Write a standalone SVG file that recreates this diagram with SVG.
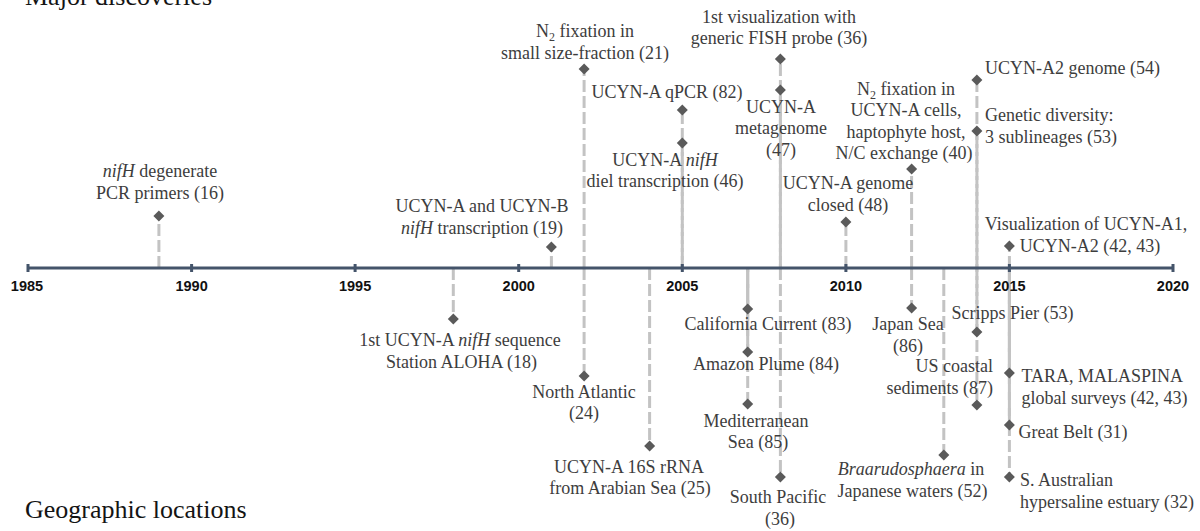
<svg xmlns="http://www.w3.org/2000/svg" xmlns:xlink="http://www.w3.org/1999/xlink" width="1200" height="531" viewBox="0 0 1200 531">
<style>
.t{font-family:"Liberation Serif","Times New Roman",serif;font-size:18px;fill:#3d3d3d}
.m{text-anchor:middle}
.e{text-anchor:end}
.title{font-family:"Liberation Serif","Times New Roman",serif;font-size:26px;fill:#141414}
.yr{font-family:"Liberation Sans",Arial,sans-serif;font-size:14.5px;font-weight:bold;fill:#111;text-anchor:middle}
.ld{stroke:#c3c3c3;stroke-width:3;stroke-dasharray:12 4;fill:none}
.i{font-style:italic}
</style>
<defs>
<path id="dm" d="M0,-5.5 L5.5,0 L0,5.5 L-5.5,0Z" fill="#5a5a5a"/>
</defs>
<rect width="1200" height="531" fill="#fff"/>
<text class="title" x="25" y="5">Major discoveries</text>
<text class="title" x="25" y="518">Geographic locations</text>

<g id="connectors">
<line class="ld" x1="158.9" y1="268" x2="158.9" y2="216"/>
<line class="ld" x1="551.4" y1="268" x2="551.4" y2="247"/>
<line class="ld" x1="584.1" y1="268" x2="584.1" y2="69"/>
<line class="ld" x1="682.3" y1="268" x2="682.3" y2="110"/>
<line class="ld" x1="682.3" y1="268" x2="682.3" y2="143" stroke-dashoffset="8"/>
<line class="ld" x1="780.4" y1="268" x2="780.4" y2="59"/>
<line class="ld" x1="780.4" y1="268" x2="780.4" y2="90" stroke-dashoffset="8"/>
<line class="ld" x1="845.9" y1="268" x2="845.9" y2="222"/>
<line class="ld" x1="911.6" y1="268" x2="911.6" y2="169"/>
<line class="ld" x1="976.9" y1="268" x2="976.9" y2="80"/>
<line class="ld" x1="976.9" y1="268" x2="976.9" y2="131" stroke-dashoffset="8"/>
<line class="ld" x1="1009.4" y1="268" x2="1009.4" y2="246"/>
<line class="ld" x1="453.3" y1="268" x2="453.3" y2="319"/>
<line class="ld" x1="584.1" y1="268" x2="584.1" y2="376"/>
<line class="ld" x1="649.6" y1="268" x2="649.6" y2="446"/>
<line class="ld" x1="747.7" y1="268" x2="747.7" y2="309"/>
<line class="ld" x1="747.7" y1="268" x2="747.7" y2="352" stroke-dashoffset="8"/>
<line class="ld" x1="747.7" y1="268" x2="747.7" y2="404" stroke-dashoffset="4"/>
<line class="ld" x1="780.4" y1="268" x2="780.4" y2="477"/>
<line class="ld" x1="911.6" y1="268" x2="911.6" y2="308"/>
<line class="ld" x1="943.8" y1="268" x2="943.8" y2="455"/>
<line class="ld" x1="976.9" y1="268" x2="976.9" y2="332"/>
<line class="ld" x1="976.9" y1="268" x2="976.9" y2="405" stroke-dashoffset="8"/>
<line class="ld" x1="1009.4" y1="268" x2="1009.4" y2="373"/>
<line class="ld" x1="1009.4" y1="268" x2="1009.4" y2="425" stroke-dashoffset="8"/>
<line class="ld" x1="1009.4" y1="268" x2="1009.4" y2="477" stroke-dashoffset="4"/>
</g>

<g id="axis">
<line x1="28" y1="268" x2="1173" y2="268" stroke="#44546a" stroke-width="3"/>
<g fill="#44546a">
<rect x="26.5" y="264" width="3" height="8"/>
<rect x="190.1" y="264" width="3" height="8"/>
<rect x="353.6" y="264" width="3" height="8"/>
<rect x="517.2" y="264" width="3" height="8"/>
<rect x="680.8" y="264" width="3" height="8"/>
<rect x="844.4" y="264" width="3" height="8"/>
<rect x="1007.9" y="264" width="3" height="8"/>
<rect x="1171.5" y="264" width="3" height="8"/>
</g>
<text class="yr" x="27" y="291">1985</text>
<text class="yr" x="191.6" y="291">1990</text>
<text class="yr" x="355.1" y="291">1995</text>
<text class="yr" x="518.7" y="291">2000</text>
<text class="yr" x="682.3" y="291">2005</text>
<text class="yr" x="845.9" y="291">2010</text>
<text class="yr" x="1009.4" y="291">2015</text>
<text class="yr" x="1173" y="291">2020</text>
</g>

<g id="e1989-primers"><use xlink:href="#dm" x="158.9" y="216"/>
<text class="t m" x="160" y="177"><tspan class="i">nifH</tspan> degenerate</text>
<text class="t m" x="160" y="199">PCR primers (16)</text></g>

<g id="e2001-transcription"><use xlink:href="#dm" x="551.4" y="247"/>
<text class="t m" x="482" y="212">UCYN-A and UCYN-B</text>
<text class="t m" x="482" y="234"><tspan class="i">nifH</tspan> transcription (19)</text></g>

<g id="e2002-fixation"><use xlink:href="#dm" x="584.1" y="69"/>
<text class="t m" x="585" y="37">N<tspan font-size="12" dy="4">2</tspan><tspan dy="-4"> fixation in</tspan></text>
<text class="t m" x="585" y="58.5">small size-fraction (21)</text></g>

<g id="e2005-qpcr"><use xlink:href="#dm" x="682.3" y="110"/>
<text class="t m" x="667" y="97.5">UCYN-A qPCR (82)</text></g>

<g id="e2005-diel"><use xlink:href="#dm" x="682.3" y="143"/>
<text class="t m" x="665" y="165.5">UCYN-A <tspan class="i">nifH</tspan></text>
<text class="t m" x="665" y="187">diel transcription (46)</text></g>

<g id="e2008-fish"><use xlink:href="#dm" x="780.4" y="59"/>
<text class="t m" x="779" y="22.5">1st visualization with</text>
<text class="t m" x="779" y="44">generic FISH probe (36)</text></g>

<g id="e2008-metagenome"><use xlink:href="#dm" x="780.4" y="90"/>
<text class="t m" x="781" y="112.5">UCYN-A</text>
<text class="t m" x="781" y="134">metagenome</text>
<text class="t m" x="781" y="155.5">(47)</text></g>

<g id="e2010-genome"><use xlink:href="#dm" x="845.9" y="222"/>
<text class="t m" x="848" y="189">UCYN-A genome</text>
<text class="t m" x="848" y="210.5">closed (48)</text></g>

<g id="e2012-fixation"><use xlink:href="#dm" x="911.6" y="169"/>
<text class="t m" x="906" y="94.5">N<tspan font-size="12" dy="4">2</tspan><tspan dy="-4"> fixation in</tspan></text>
<text class="t m" x="906" y="116">UCYN-A cells,</text>
<text class="t m" x="906" y="137.5">haptophyte host,</text>
<text class="t m" x="904" y="159">N/C exchange (40)</text></g>

<g id="e2014-a2genome"><use xlink:href="#dm" x="976.9" y="80"/>
<text class="t" x="985" y="73.5">UCYN-A2 genome (54)</text></g>

<g id="e2014-diversity"><use xlink:href="#dm" x="976.9" y="131"/>
<text class="t" x="985" y="120.5">Genetic diversity:</text>
<text class="t" x="985" y="142.5">3 sublineages (53)</text></g>

<g id="e2015-visualization"><use xlink:href="#dm" x="1009.4" y="246"/>
<text class="t m" x="1086" y="230">Visualization of UCYN-A1,</text>
<text class="t m" x="1090" y="252">UCYN-A2 (42, 43)</text></g>

<g id="g1998-aloha"><use xlink:href="#dm" x="453.3" y="319"/>
<text class="t m" x="460" y="346">1st UCYN-A <tspan class="i">nifH</tspan> sequence</text>
<text class="t m" x="461.5" y="367.5">Station ALOHA (18)</text></g>

<g id="g2002-atlantic"><use xlink:href="#dm" x="584.1" y="376"/>
<text class="t m" x="584" y="397.5">North Atlantic</text>
<text class="t m" x="584" y="419">(24)</text></g>

<g id="g2004-arabian"><use xlink:href="#dm" x="649.6" y="446"/>
<text class="t m" x="629" y="472.5">UCYN-A 16S rRNA</text>
<text class="t m" x="630" y="494">from Arabian Sea (25)</text></g>

<g id="g2007-california"><use xlink:href="#dm" x="747.7" y="309"/>
<text class="t m" x="768" y="330">California Current (83)</text></g>

<g id="g2007-amazon"><use xlink:href="#dm" x="747.7" y="352"/>
<text class="t m" x="766" y="370">Amazon Plume (84)</text></g>

<g id="g2007-mediterranean"><use xlink:href="#dm" x="747.7" y="404"/>
<text class="t m" x="756" y="426.5">Mediterranean</text>
<text class="t m" x="758" y="448">Sea (85)</text></g>

<g id="g2008-southpacific"><use xlink:href="#dm" x="780.4" y="477"/>
<text class="t m" x="778" y="503">South Pacific</text>
<text class="t m" x="780" y="524.5">(36)</text></g>

<g id="g2012-japansea"><use xlink:href="#dm" x="911.6" y="308"/>
<text class="t m" x="908" y="330">Japan Sea</text>
<text class="t m" x="908" y="351.5">(86)</text></g>

<g id="g2013-braarudosphaera"><use xlink:href="#dm" x="943.8" y="455"/>
<text class="t m" x="911" y="475"><tspan class="i">Braarudosphaera</tspan> in</text>
<text class="t m" x="912.5" y="496.5">Japanese waters (52)</text></g>

<g id="g2014-scripps"><use xlink:href="#dm" x="976.9" y="332"/>
<text class="t" x="951.5" y="318.5">Scripps Pier (53)</text></g>

<g id="g2014-uscoastal"><use xlink:href="#dm" x="976.9" y="405"/>
<text class="t e" x="993" y="372">US coastal</text>
<text class="t e" x="993" y="393.5">sediments (87)</text></g>

<g id="g2015-tara"><use xlink:href="#dm" x="1009.4" y="373"/>
<text class="t" x="1021.5" y="382">TARA, MALASPINA</text>
<text class="t" x="1021.5" y="403.5">global surveys (42, 43)</text></g>

<g id="g2015-greatbelt"><use xlink:href="#dm" x="1009.4" y="425"/>
<text class="t" x="1018.5" y="438">Great Belt (31)</text></g>

<g id="g2015-australia"><use xlink:href="#dm" x="1009.4" y="477"/>
<text class="t" x="1020" y="486">S. Australian</text>
<text class="t" x="1020" y="507.5">hypersaline estuary (32)</text></g>
</svg>
